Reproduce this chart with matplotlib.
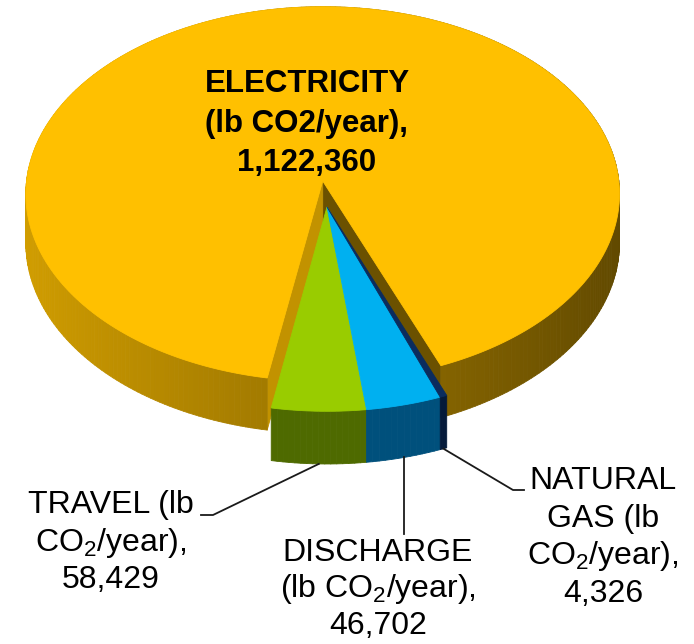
import numpy as np
import matplotlib
matplotlib.use("Agg")
import matplotlib.pyplot as plt
from matplotlib.collections import PolyCollection

# data
names = ["ELECTRICITY", "TRAVEL", "DISCHARGE", "NATURAL GAS"]
values = [1122360, 58429, 46702, 4326]
label_lines = [
    ["ELECTRICITY", "(lb CO2/year),", "1,122,360"],
    ["TRAVEL (lb", "CO$_2$/year),", "58,429"],
    ["DISCHARGE", "(lb CO$_2$/year),", "46,702"],
    ["NATURAL", "GAS (lb", "CO$_2$/year),", "4,326"],
]
top_colors = ["#FFC000", "#99CC00", "#00B0F0", "#0B2C5E"]
side_colors = ["#FFC000", "#4E6A00", "#00507C", "#051A3A"]
explode = [0.139, 0, 0, 0]

plt.rcParams["font.family"] = ["Liberation Sans", "DejaVu Sans"]
plt.rcParams["mathtext.fontset"] = "custom"
plt.rcParams["mathtext.rm"] = "Liberation Sans"
plt.rcParams["mathtext.default"] = "regular"

# projection of the pie (pixel space)
CX, CY = 327, 207
A, E, G, H = 299, 190, 0.07, 49
START = -100.0


def proj(u, v, z):
    den = 1 + G * v
    return CX + A * u / den, CY - (E * v + H * z) / den


def pt(t, ox, oy, z, r=1.0):
    return proj(ox + r * np.cos(t), oy + r * np.sin(t), z)


fig = plt.figure(figsize=(6.94, 6.44), dpi=100)
ax = fig.add_axes([0, 0, 1, 1])
ax.set_xlim(0, 694)
ax.set_ylim(644, 0)
ax.axis("off")

total = sum(values)
# counter-clockwise order starting from START: travel, discharge, gas, electricity
order = [1, 2, 3, 0]
spans = {}
a0 = np.radians(START)
for i in order:
    a1 = a0 + 2 * np.pi * values[i] / total
    spans[i] = (a0, a1)
    a0 = a1


def shade(c, f):
    r, g, b = matplotlib.colors.to_rgb(c)
    return (r * f, g * f, b * f)


def draw_slice(i, zo):
    t0, t1 = spans[i]
    mid = (t0 + t1) / 2
    ox, oy = explode[i] * np.cos(mid), explode[i] * np.sin(mid)
    ts = np.linspace(t0, t1, max(4, int(np.degrees(t1 - t0))))
    polys, cols = [], []
    if i == 0:
        # cut faces of the exploded slice
        for t, f in [(t0, 0.42), (t1, 0.76)]:
            polys.append([proj(ox, oy, 0), pt(t, ox, oy, 0), pt(t, ox, oy, -1), proj(ox, oy, -1)])
            cols.append(shade(top_colors[i], f))
    for ta, tb in zip(ts[:-1], ts[1:]):
        polys.append([pt(ta, ox, oy, 0), pt(tb, ox, oy, 0), pt(tb, ox, oy, -1), pt(ta, ox, oy, -1)])
        tm = (ta + tb) / 2
        if i == 0:
            cols.append(shade(top_colors[i], 0.6 - 0.22 * np.cos(tm)))
        else:
            cols.append(side_colors[i])
    ax.add_collection(PolyCollection(polys, facecolors=cols, edgecolors=cols, linewidths=0.6, zorder=zo))
    top = [proj(ox, oy, 0)] + [pt(t, ox, oy, 0) for t in ts]
    ax.add_patch(plt.Polygon(top, closed=True, fc=top_colors[i], ec=top_colors[i], lw=0.6, zorder=zo + 1))


draw_slice(0, 1)
for k, i in enumerate([1, 2, 3]):
    draw_slice(i, 3 + 2 * k)

# electricity label
for k, line in enumerate(label_lines[0]):
    ax.text(307, 92 + 39.5 * k, line, ha="center", va="baseline", fontsize=22.5,
            fontweight="bold", zorder=20)

# outside labels with leader lines
label_pos = {1: (111, 513), 2: (378, 561), 3: (603, 489)}
line_gap = {1: 37.5, 2: 36.5, 3: 37.5}
bends = {1: [(213, 515), (201, 515)], 2: [(404, 534)], 3: [(513, 490), (524, 490)]}
for i in [1, 2, 3]:
    t0, t1 = spans[i]
    mid = (t0 + t1) / 2
    x0, y0 = pt(mid, 0, 0, -1)
    xs = [x0] + [p[0] for p in bends[i]]
    ys = [y0] + [p[1] for p in bends[i]]
    if i == 2:
        xs[1] = x0
    ax.plot(xs, ys, color="#1a1a1a", lw=1.3, zorder=15)
    x, y = label_pos[i]
    for k, line in enumerate(label_lines[i]):
        ax.text(x, y + line_gap[i] * k, line, ha="center", va="baseline", fontsize=23, zorder=20)

fig.savefig("out.png", dpi=100)
